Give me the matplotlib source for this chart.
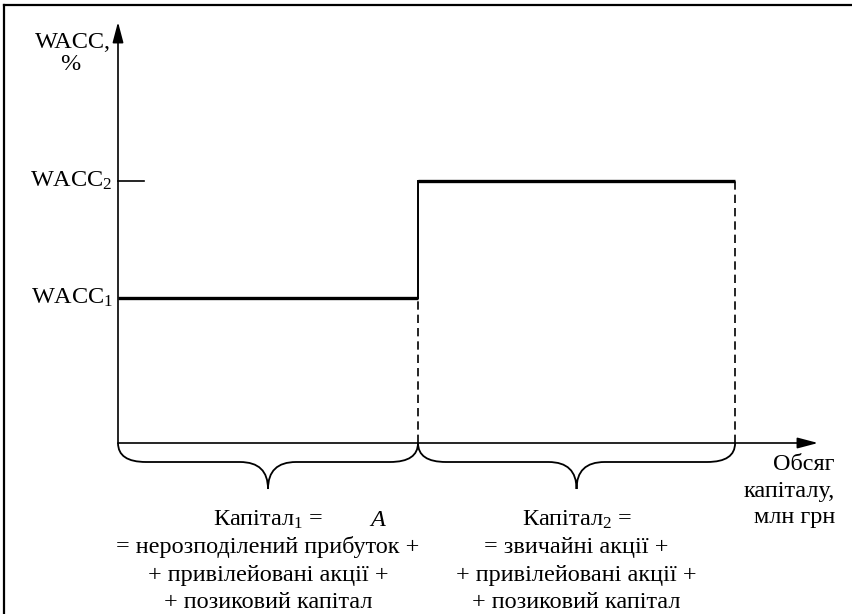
import numpy as np
import matplotlib.pyplot as plt
from matplotlib.path import Path
from matplotlib.patches import PathPatch
from matplotlib.lines import Line2D

plt.rcParams['font.family'] = ['Liberation Serif', 'DejaVu Serif']
plt.rcParams['mathtext.fontset'] = 'custom'
plt.rcParams['mathtext.rm'] = 'Liberation Serif'
plt.rcParams['mathtext.it'] = 'Liberation Serif:italic'

# Data
capital = [0.0, 1.0, 2.057]          # start, point A, end of second tranche
wacc = [1.0, 1.807]                  # WACC1, WACC2
wacc_labels = ["WACC$_1$", "WACC$_2$"]
block1 = ["Капітал$_1$ =", "= нерозподілений прибуток +",
          "+ привілейовані акції +", "+ позиковий капітал"]
block2 = ["Капітал$_2$ =", "= звичайні акції +",
          "+ привілейовані акції +", "+ позиковий капітал"]
xlabel = ["Обсяг", "капіталу,", "млн грн"]

W, H = 853, 614
x0px, y0px = 118, 443     # origin in pixels (from top-left)
sx, sy = 300.0, 145.0     # pixels per data unit

fig = plt.figure(figsize=(W / 100, H / 100), dpi=100)
ax = fig.add_axes([0, 0, 1, 1])
ax.set_xlim(-x0px / sx, (W - x0px) / sx)
ax.set_ylim(-(H - y0px) / sy, y0px / sy)
ax.axis("off")

def px(dx): return dx / sx
def py(dy): return dy / sy

fs = 17.5

# frame (top and left only)
fig.add_artist(Line2D([4 / W, 1], [1 - 5 / H, 1 - 5 / H], color="black", lw=1.6))
fig.add_artist(Line2D([4 / W, 4 / W], [0, 1 - 5 / H], color="black", lw=1.6))

# axes with arrows
ymax = py(y0px - 22)
xmax = px(818 - x0px)
arrow = dict(arrowstyle="-|>,head_length=1.25,head_width=0.33",
             color="black", lw=1.2, shrinkA=0, shrinkB=0)
ax.annotate("", xy=(0, ymax), xytext=(0, 0), arrowprops=arrow)
ax.annotate("", xy=(xmax, 0), xytext=(0, 0), arrowprops=arrow)

# step function
ax.plot([capital[0], capital[1]], [wacc[0], wacc[0]], color="black", lw=2.4,
        solid_capstyle="butt")
ax.plot([capital[1], capital[2]], [wacc[1], wacc[1]], color="black", lw=2.4,
        solid_capstyle="butt")
ax.plot([capital[1], capital[1]], [wacc[0], wacc[1]], color="black", lw=1.4)

# dashed guides
ax.plot([capital[1], capital[1]], [0, wacc[0]], color="black", lw=1.2,
        linestyle=(0, (5, 3)))
ax.plot([capital[2], capital[2]], [0, wacc[1]], color="black", lw=1.2,
        linestyle=(0, (5, 3)))

# tick at WACC2
ax.plot([0, px(26)], [wacc[1], wacc[1]], color="black", lw=1.2)

# y labels
for val, lab in zip(wacc, wacc_labels):
    ax.text(-px(5), val, lab, ha="right", va="center", fontsize=fs)
ax.text(-px(7), py(y0px - 42), "WACC,", ha="right", va="center", fontsize=fs)
ax.text(-px(48), py(y0px - 64), "%", ha="center", va="center", fontsize=fs)

# braces
def brace(xa, xb):
    xm = (xa + xb) / 2
    r, h, tip = px(28), -py(19), -py(46)
    verts = [(xa, 0), (xa, h), (xa + r, h),
             (xm - r, h),
             (xm, h), (xm, tip),
             (xm, h), (xm + r, h),
             (xb - r, h),
             (xb, h), (xb, 0)]
    codes = [Path.MOVETO, Path.CURVE3, Path.CURVE3,
             Path.LINETO,
             Path.CURVE3, Path.CURVE3,
             Path.CURVE3, Path.CURVE3,
             Path.LINETO,
             Path.CURVE3, Path.CURVE3]
    ax.add_patch(PathPatch(Path(verts, codes), fill=False, lw=1.3,
                           edgecolor="black"))

brace(capital[0], capital[1])
brace(capital[1], capital[2])

# text blocks under braces
line_y = [520, 547, 575, 602]
for lines, (xa, xb) in [(block1, (capital[0], capital[1])),
                        (block2, (capital[1], capital[2]))]:
    xm = (xa + xb) / 2
    for t, ypx in zip(lines, line_y):
        ax.text(xm, -py(ypx - y0px), t, ha="center", va="center", fontsize=fs)

ax.text(capital[1] - px(40), -py(520 - y0px), "A", ha="center", va="center",
        fontsize=fs, style="italic")

for t, ypx in zip(xlabel, [465, 492, 518]):
    ax.text(px(835 - x0px), -py(ypx - y0px), t, ha="right", va="center",
            fontsize=fs)

fig.savefig("out.png", dpi=100)
